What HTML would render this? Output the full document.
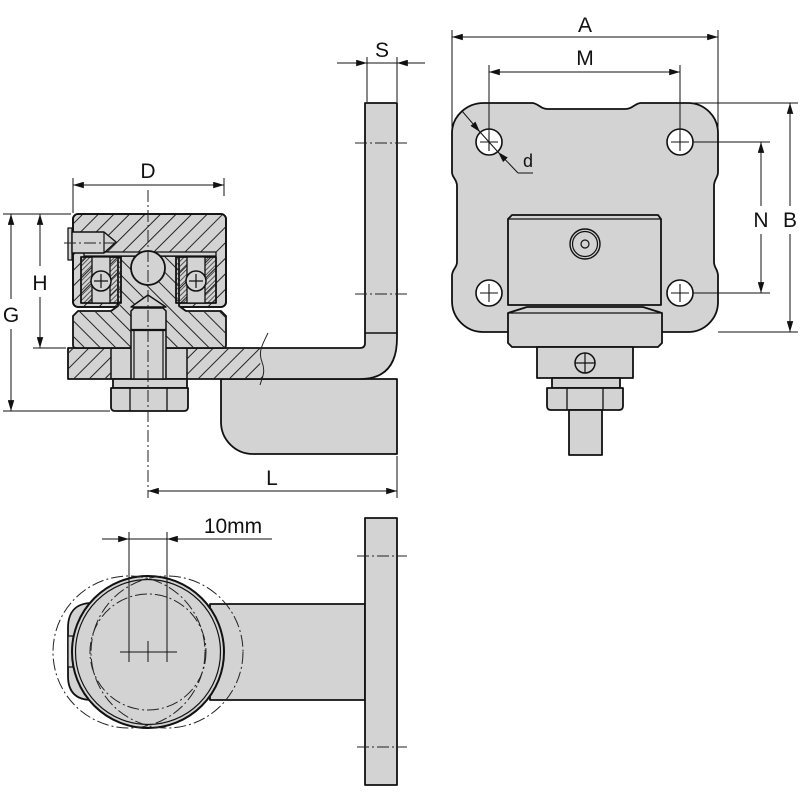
<!DOCTYPE html>
<html><head><meta charset="utf-8"><style>html,body{margin:0;padding:0;background:#fff;}svg{display:block}</style></head>
<body>
<svg width="800" height="800" viewBox="0 0 800 800" xmlns="http://www.w3.org/2000/svg" font-family="'Liberation Sans', sans-serif">
<defs>
<pattern id="hs" patternUnits="userSpaceOnUse" width="11" height="11" patternTransform="rotate(45)"><line x1="1" y1="0" x2="1" y2="11" stroke="#222" stroke-width="1"/></pattern>
<pattern id="hb" patternUnits="userSpaceOnUse" width="11" height="11" patternTransform="rotate(-45)"><line x1="1" y1="0" x2="1" y2="11" stroke="#222" stroke-width="1"/></pattern>
<pattern id="hd" patternUnits="userSpaceOnUse" width="3.5" height="3.5" patternTransform="rotate(45)"><line x1="0.5" y1="0" x2="0.5" y2="3.5" stroke="#333" stroke-width="0.8"/></pattern>
<marker id="a" viewBox="0 0 10 6" refX="10" refY="3" markerWidth="11" markerHeight="6.5" markerUnits="userSpaceOnUse" orient="auto-start-reverse"><path d="M0,0 L10,3 L0,6 Z" fill="#111"/></marker>
</defs>

<g fill="#d3d3d3" stroke="#111" stroke-width="1.8" stroke-linejoin="round">
<!-- ============ LEFT SECTION VIEW ============ -->
<path d="M221,379 H397 V454 H253 A32,32 0 0 1 221,422 Z"/>
<path d="M68,348 H360 Q365,348 365,343 V103 H397 V338 Q397,379 360,379 H68 Z"/>
<line x1="365" y1="333" x2="397" y2="333" stroke-width="1.5"/>
<path d="M68,348 H111 V379 H68 Z" fill="url(#hs)" stroke="none"/>
<path d="M187,348 H266 C261,356 258,362 262,368 C265,374 262,378 261,379 H187 Z" fill="url(#hs)" stroke="none"/>
<line x1="111" y1="348" x2="111" y2="379" stroke-width="1.5"/>
<line x1="187" y1="348" x2="187" y2="379" stroke-width="1.5"/>
<rect x="113" y="379" width="74" height="9"/>
<path d="M111,388 H188 V407 Q188,411 184,411 H115 Q111,411 111,407 Z"/>
<line x1="130" y1="388" x2="130" y2="411" stroke-width="1.3"/>
<line x1="167" y1="388" x2="167" y2="411" stroke-width="1.3"/>

<rect x="73" y="214" width="153" height="93" rx="5"/>
<rect x="73" y="214" width="153" height="93" rx="5" fill="url(#hs)" stroke="none"/>
<rect x="73" y="214" width="153" height="93" rx="5" fill="none"/>
<path d="M118,256 H179 V306 L186,311 H221 L226,316 V345 Q226,348 223,348 H76 Q73,348 73,345 V316 L78,311 H111 L118,306 Z"/>
<path d="M118,256 H179 V306 L186,311 H221 L226,316 V345 Q226,348 223,348 H76 Q73,348 73,345 V316 L78,311 H111 L118,306 Z" fill="url(#hb)" stroke="none"/>
<rect x="84" y="252" width="132" height="4" stroke-width="1.3"/>
<rect x="81" y="257" width="40" height="46" fill="url(#hd)"/>
<rect x="92" y="257" width="18" height="46" stroke-width="1.3"/>
<circle cx="101" cy="281" r="10" stroke-width="1.5"/>
<path d="M101,274 V288 M94,281 H108" fill="none" stroke-width="1.2"/>
<rect x="176" y="257" width="40" height="46" fill="url(#hd)"/>
<rect x="187" y="257" width="18" height="46" stroke-width="1.3"/>
<circle cx="196" cy="281" r="10" stroke-width="1.5"/>
<path d="M196,274 V288 M189,281 H203" fill="none" stroke-width="1.2"/>
<circle cx="148" cy="268" r="17"/>
<rect x="68" y="228" width="4" height="32" stroke-width="1.3"/>
<path d="M72,232 H104 L116,242 L104,253 H72 Z" stroke-width="1.4"/>
<line x1="104" y1="232" x2="104" y2="253" stroke-width="1.2"/>
<path d="M131,307 L148,295 L166,307 Z" stroke-width="1.4"/>
<path d="M131,311 L134,308 H163 L166,311 V379 H131 Z" stroke-width="1.5"/>
<line x1="131" y1="330" x2="166" y2="330" stroke-width="2.2"/>
<line x1="134" y1="330" x2="134" y2="379" stroke-width="1.2"/>
<line x1="163" y1="330" x2="163" y2="379" stroke-width="1.2"/>

<!-- ============ RIGHT VIEW ============ -->
<path d="M485,103 H532 C538,103 540,109 548,109 H625 C633,109 635,103 641,103 H688 A30,30 0 0 1 718,133 V172 C718,178 714,179 714,186 V262 C714,268 718,269 718,276 V302 A30,30 0 0 1 688,332 H483 A31,31 0 0 1 452,301 V276 C452,269 457,268 457,262 V186 C457,179 452,178 452,172 V133 A32,30 0 0 1 485,103 Z"/>
<g fill="#fff" stroke-width="1.6">
<circle cx="489" cy="142" r="13"/><circle cx="680" cy="142" r="13"/>
<circle cx="489" cy="293" r="13"/><circle cx="680" cy="293" r="13"/>
</g>
<path d="M480,142 H498 M489,133 V151 M671,142 H689 M680,133 V151 M480,293 H498 M489,284 V302 M671,293 H689 M680,284 V302" fill="none" stroke-width="1.1"/>
<path d="M512,215 H658 L661,219 V305 H508 V219 Z"/>
<line x1="508" y1="219" x2="661" y2="219" stroke-width="1.2"/>
<circle cx="585" cy="244" r="15" stroke-width="1.4"/>
<circle cx="585" cy="244" r="12.5" stroke-width="1.2"/>
<circle cx="585" cy="244" r="4" stroke-width="1.2"/>
<path d="M527,307 H643 L662,313 V343 L658,347 H512 L508,343 V313 Z"/>
<line x1="508" y1="313" x2="662" y2="313" stroke-width="1.2"/>
<rect x="537" y="347" width="96" height="31"/>
<circle cx="585" cy="363" r="10" stroke-width="1.5"/>
<path d="M575,363 H595 M585,353 V373" fill="none" stroke-width="1.2"/>
<rect x="552" y="378" width="68" height="10"/>
<path d="M547,388 H623 V406 Q623,410 619,410 H551 Q547,410 547,406 Z"/>
<line x1="567" y1="388" x2="567" y2="410" stroke-width="1.3"/>
<line x1="603" y1="388" x2="603" y2="410" stroke-width="1.3"/>
<rect x="569" y="410" width="33" height="45"/>

<!-- ============ BOTTOM VIEW ============ -->
<rect x="210" y="604" width="155" height="96"/>
<path d="M92,603 C76,603 68,612 68,628 V676 C68,692 76,700 92,700 Z"/>
<rect x="68" y="636" width="5" height="31" stroke-width="1.3"/>
<circle cx="148" cy="652" r="76" stroke-width="2"/>
<circle cx="148" cy="652" r="72.5" fill="none" stroke-width="1.2"/>
<rect x="365" y="518" width="32" height="267"/>
</g>

<g fill="none" stroke="#222" stroke-width="1" stroke-dasharray="12 3 2 3">
<circle cx="129" cy="652" r="76"/>
<circle cx="167" cy="652" r="76"/>
<circle cx="148" cy="652" r="58"/>
<line x1="148" y1="190" x2="148" y2="498"/>
<line x1="355" y1="143" x2="407" y2="143"/>
<line x1="355" y1="294" x2="407" y2="294"/>
<line x1="357" y1="556" x2="407" y2="556"/>
<line x1="357" y1="747" x2="407" y2="747"/>
<line x1="64" y1="243" x2="118" y2="243"/>
</g>

<path d="M268,333 C262,345 258,352 262,362 C266,372 262,378 260,385" fill="none" stroke="#222" stroke-width="1"/>

<g fill="none" stroke="#111" stroke-width="1">
<line x1="73" y1="178" x2="73" y2="213"/><line x1="224" y1="178" x2="224" y2="196"/>
<line x1="73" y1="185" x2="224" y2="185" marker-start="url(#a)" marker-end="url(#a)"/>
<line x1="367" y1="57" x2="367" y2="102"/><line x1="397" y1="57" x2="397" y2="102"/>
<line x1="337" y1="63" x2="367" y2="63" marker-end="url(#a)"/>
<line x1="425" y1="63" x2="397" y2="63" marker-end="url(#a)"/>
<line x1="367" y1="63" x2="397" y2="63"/>
<line x1="3" y1="214" x2="71" y2="214"/>
<line x1="3" y1="411" x2="110" y2="411"/>
<line x1="33" y1="348" x2="66" y2="348"/>
<line x1="11" y1="214" x2="11" y2="299" marker-start="url(#a)"/>
<line x1="11" y1="329" x2="11" y2="411" marker-end="url(#a)"/>
<line x1="40" y1="214" x2="40" y2="266" marker-start="url(#a)"/>
<line x1="40" y1="297" x2="40" y2="348" marker-end="url(#a)"/>
<line x1="397" y1="456" x2="397" y2="498"/>
<line x1="148" y1="491" x2="397" y2="491" marker-start="url(#a)" marker-end="url(#a)"/>
<line x1="452" y1="30" x2="452" y2="135"/><line x1="718" y1="30" x2="718" y2="135"/>
<line x1="452" y1="37" x2="718" y2="37" marker-start="url(#a)" marker-end="url(#a)"/>
<line x1="489" y1="65" x2="489" y2="142"/><line x1="680" y1="65" x2="680" y2="142"/>
<line x1="489" y1="72" x2="680" y2="72" marker-start="url(#a)" marker-end="url(#a)"/>
<line x1="641" y1="103" x2="798" y2="103"/><line x1="718" y1="332" x2="798" y2="332"/>
<line x1="790" y1="103" x2="790" y2="206" marker-start="url(#a)"/>
<line x1="790" y1="234" x2="790" y2="332" marker-end="url(#a)"/>
<line x1="693" y1="142" x2="770" y2="142"/><line x1="693" y1="293" x2="770" y2="293"/>
<line x1="761" y1="142" x2="761" y2="206" marker-start="url(#a)"/>
<line x1="761" y1="234" x2="761" y2="293" marker-end="url(#a)"/>
<line x1="462" y1="111" x2="480" y2="132" marker-end="url(#a)"/>
<line x1="518" y1="173" x2="498" y2="152" marker-end="url(#a)"/>
<line x1="480" y1="132" x2="498" y2="152"/>
<line x1="518" y1="173" x2="533" y2="173"/>
<line x1="129" y1="532" x2="129" y2="662"/><line x1="167" y1="532" x2="167" y2="662"/>
<line x1="102" y1="539" x2="129" y2="539" marker-end="url(#a)"/>
<line x1="272" y1="539" x2="167" y2="539" marker-end="url(#a)"/>
<line x1="129" y1="539" x2="167" y2="539"/>
<line x1="120" y1="652" x2="177" y2="652"/>
<line x1="148" y1="641" x2="148" y2="662"/>
</g>

<g fill="#111" font-size="21" text-anchor="middle">
<text x="148" y="178">D</text>
<text x="382" y="57">S</text>
<text x="11" y="322">G</text>
<text x="40" y="290">H</text>
<text x="272" y="485">L</text>
<text x="585" y="32">A</text>
<text x="585" y="65">M</text>
<text x="761" y="227">N</text>
<text x="790" y="227">B</text>
<text x="528" y="167" font-size="18">d</text>
<text x="233" y="533">10mm</text>
</g>
</svg>
</body></html>
